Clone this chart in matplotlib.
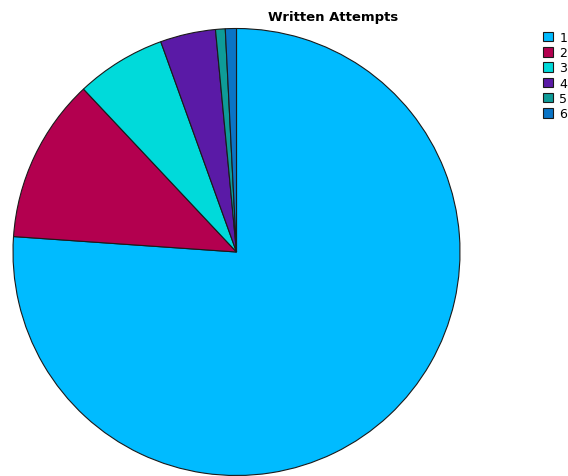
import matplotlib
matplotlib.use("Agg")
import matplotlib.pyplot as plt

# Share of candidates by number of written attempts
categories = ["1", "2", "3", "4", "5", "6"]
shares = [76.1, 11.9, 6.5, 4.0, 0.7, 0.8]
colors = ["#00BBFF", "#B3004F", "#00DADA", "#5A1AA6", "#0E9C98", "#0A74C6"]

W, H = 568, 477
fig = plt.figure(figsize=(W / 100, H / 100), dpi=100)
ax = fig.add_axes([0, 0, 1, 1])

wedges, _ = ax.pie(
    shares,
    colors=colors,
    startangle=90,
    counterclock=False,
    center=(236.5, H - 253),
    radius=223.5,
    frame=True,
    wedgeprops=dict(edgecolor="#1a1a1a", linewidth=0.8),
)
ax.set_xlim(0, W)
ax.set_ylim(0, H)
ax.set_aspect("equal")
ax.axis("off")

fig.text(333 / W, 1 - 17 / H, "Written Attempts", ha="center", va="center",
         fontsize=9.5, fontweight="bold")

leg = fig.legend(
    wedges, categories,
    loc="upper left",
    bbox_to_anchor=(543 / W, 1 - 32 / H),
    frameon=False,
    fontsize=9,
    handlelength=0.8,
    handleheight=0.8,
    handletextpad=0.5,
    labelspacing=0.18,
    borderpad=0,
    borderaxespad=0,
)

fig.savefig("out.png", dpi=100)
